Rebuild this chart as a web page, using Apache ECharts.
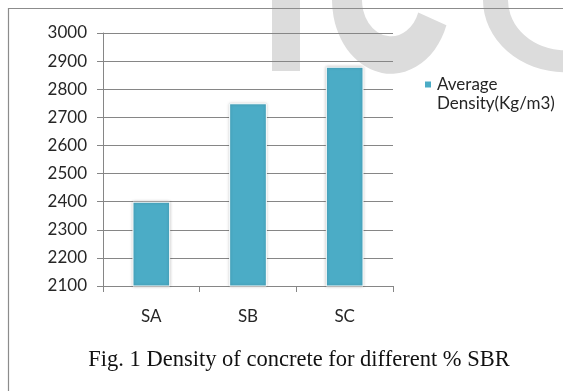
<!DOCTYPE html>
<html>
<head>
<meta charset="utf-8">
<script src="https://cdn.jsdelivr.net/npm/echarts@6/dist/echarts.min.js"></script>
<style>
html,body{margin:0;padding:0;background:#fff;}
#chart{width:563px;height:391px;}
</style>
</head>
<body>
<div id="chart"></div>
<script>
var categories = ['SA', 'SB', 'SC'];
var densityValues = [2400, 2750, 2880];
var seriesName = 'Average Density(Kg/m3)';
var yMin = 2100, yMax = 3000, yStep = 100;
var caption = 'Fig. 1 Density of concrete for different % SBR';

var chart = echarts.init(document.getElementById('chart'), null, {renderer: 'canvas'});
var axisGray = '#868686';
var textColor = '#262626';
var wm = '#dcdcdc';

chart.setOption({
  animation: false,
  backgroundColor: '#ffffff',
  title: {
    text: caption,
    left: 299, textAlign: 'center',
    top: 349,
    padding: 0,
    textStyle: {fontFamily: 'Liberation Serif', fontSize: 22.5, fontWeight: 'normal', color: '#111'}
  },
  legend: {
    left: 423, top: 56, padding: 0,
    itemWidth: 8, itemHeight: 8,
    icon: 'rect',
    data: [seriesName],
    formatter: function () { return ' \nAverage\nDensity(Kg/m3)'; },
    textStyle: {fontFamily: 'Lato', fontSize: 17, color: textColor, lineHeight: 19}
  },
  grid: {left: 103, right: 170, top: 33, bottom: 105, containLabel: false},
  xAxis: {
    type: 'category',
    data: categories,
    axisLine: {lineStyle: {color: axisGray, width: 1}},
    axisTick: {show: true, length: 6, lineStyle: {color: axisGray}},
    axisLabel: {margin: 22, fontFamily: 'Lato', fontSize: 17, color: textColor},
    splitLine: {show: false}
  },
  yAxis: {
    type: 'value',
    min: yMin, max: yMax, interval: yStep,
    axisLine: {show: true, lineStyle: {color: axisGray, width: 1}},
    axisTick: {show: true, length: 6, lineStyle: {color: axisGray}},
    axisLabel: {margin: 16, fontFamily: 'Lato', fontSize: 17, color: textColor,
      formatter: function (v) { return String(v); }},
    splitLine: {show: true, lineStyle: {color: axisGray, width: 1}}
  },
  series: [{
    name: seriesName,
    type: 'bar',
    data: densityValues,
    barWidth: '39%',
    itemStyle: {
      color: '#4BACC6',
      borderColor: '#ffffff', borderWidth: 1,
      shadowBlur: 3, shadowColor: 'rgba(0,0,0,0.25)'
    }
  }],
  graphic: [
    {type: 'rect', z: -10, shape: {x: 272, y: -5, width: 28, height: 76}, style: {fill: wm}},
    {type: 'sector', z: -10, x: 391, y: 0, scaleY: 1.25,
      shape: {cx: 0, cy: 0, r: 59, r0: 29, startAngle: 0.35, endAngle: Math.PI + 0.1},
      style: {fill: wm}},
    {type: 'sector', z: -10, x: 565, y: 0, scaleY: 0.88,
      shape: {cx: 0, cy: 0, r: 82, r0: 57, startAngle: Math.PI / 2, endAngle: Math.PI + 0.1},
      style: {fill: wm}},
    {type: 'rect', z: 100, shape: {x: 8.5, y: 8.5, width: 600, height: 420},
      style: {fill: 'none', stroke: '#8c8c8c', lineWidth: 1.2}}
  ]
});
</script>
</body>
</html>
